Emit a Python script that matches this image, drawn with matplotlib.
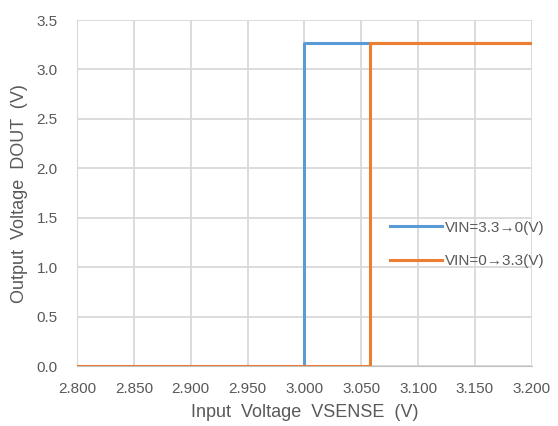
import numpy as np
import matplotlib
matplotlib.use("Agg")
import matplotlib.pyplot as plt

plt.rcParams['font.family'] = ['Liberation Sans', 'DejaVu Sans']

# step curves
x_fall = [2.800, 3.000, 3.000, 3.200]
y_fall = [0.0, 0.0, 3.27, 3.27]
x_rise = [2.800, 3.058, 3.058, 3.200]
y_rise = [0.0, 0.0, 3.27, 3.27]
labels = ["VIN=3.3→0(V)", "VIN=0→3.3(V)"]

xticks = np.arange(2.8, 3.2001, 0.05)
yticks = np.arange(0.0, 3.5001, 0.5)

fig = plt.figure(figsize=(5.58, 4.26), dpi=100)
ax = fig.add_axes([0.138, 0.140, 0.815, 0.813])

ax.plot(x_fall, y_fall, color="#5B9BD5", lw=2.2, label=labels[0], zorder=3)
ax.plot(x_rise, y_rise, color="#ED7D31", lw=2.2, label=labels[1], zorder=4)

ax.set_xlim(2.8, 3.2)
ax.set_ylim(0, 3.5)
ax.set_xticks(xticks)
ax.set_yticks(yticks)
ax.set_xticklabels(["%.3f" % v for v in xticks])
ax.set_yticklabels(["%.1f" % v for v in yticks])
ax.grid(True, color="#D9D9D9", lw=1.3)
ax.set_axisbelow(True)

for s in ["top", "right"]:
    ax.spines[s].set_visible(False)
ax.spines["left"].set_color("#D9D9D9")
ax.spines["bottom"].set_color("#BFBFBF")
ax.tick_params(length=0, labelsize=11, colors="#595959")
ax.tick_params(axis="x", pad=11)
ax.tick_params(axis="y", pad=14)

ax.set_xlabel("Input  Voltage  VSENSE  (V)", fontsize=13, color="#595959", labelpad=6)
ax.set_ylabel("Output  Voltage  DOUT  (V)", fontsize=13, color="#595959", labelpad=6)

leg = ax.legend(loc="center left", bbox_to_anchor=(0.688, 0.352), frameon=False,
                fontsize=11, handlelength=3.4, labelspacing=1.3, handletextpad=0.2,
                borderpad=0, borderaxespad=0)
for t in leg.get_texts():
    t.set_color("#595959")

fig.savefig("out.png", dpi=100)
